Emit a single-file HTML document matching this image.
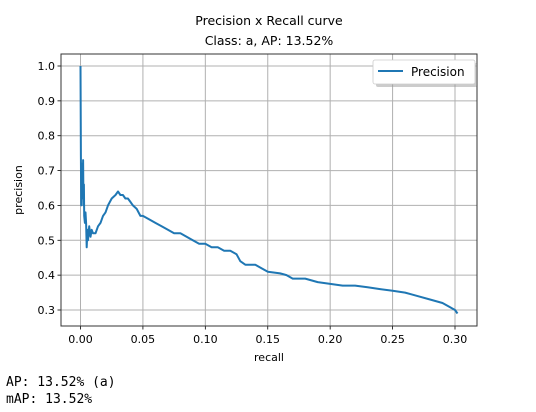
<!DOCTYPE html>
<html><head><meta charset="utf-8"><style>
body{margin:0;background:#fff;width:536px;height:412px;overflow:hidden;font-family:"DejaVu Sans","Liberation Sans",sans-serif}
#out{position:absolute;left:6px;top:374px;font-family:"DejaVu Sans Mono","Liberation Mono",monospace;font-size:13px;line-height:17px;color:#000;white-space:pre}
</style></head><body>
<svg id="chart" width="536" height="372" style="position:absolute;left:0;top:0">
</svg>
<div id="out">AP: 13.52% (a)
mAP: 13.52%</div>
<script>
const recall=[0,0.0003,0.0006,0.0009,0.0012,0.0015,0.0018,0.0021,0.0024,0.0027,0.003,0.0035,0.004,0.0045,0.005,0.0055,0.006,0.007,0.008,0.009,0.01,0.012,0.014,0.016,0.018,0.02,0.022,0.025,0.028,0.03,0.032,0.034,0.036,0.038,0.04,0.042,0.045,0.048,0.05,0.055,0.06,0.065,0.07,0.075,0.08,0.085,0.09,0.095,0.1,0.105,0.11,0.115,0.12,0.125,0.128,0.132,0.14,0.145,0.15,0.16,0.165,0.17,0.18,0.19,0.2,0.21,0.22,0.23,0.24,0.25,0.26,0.265,0.27,0.28,0.29,0.295,0.3,0.302];
const precision=[1.0,0.74,0.6,0.7,0.62,0.72,0.63,0.73,0.6,0.66,0.57,0.55,0.58,0.55,0.48,0.53,0.5,0.54,0.51,0.53,0.52,0.52,0.54,0.55,0.57,0.58,0.6,0.62,0.63,0.64,0.63,0.63,0.62,0.62,0.61,0.6,0.59,0.57,0.57,0.56,0.55,0.54,0.53,0.52,0.52,0.51,0.5,0.49,0.49,0.48,0.48,0.47,0.47,0.46,0.44,0.43,0.43,0.42,0.41,0.405,0.4,0.39,0.39,0.38,0.375,0.37,0.37,0.365,0.36,0.355,0.35,0.345,0.34,0.33,0.32,0.31,0.3,0.29];
const xTicks=[0,0.05,0.1,0.15,0.2,0.25,0.3];
const xTickLabels=["0.00","0.05","0.10","0.15","0.20","0.25","0.30"];
const yTicks=[0.3,0.4,0.5,0.6,0.7,0.8,0.9,1.0];
const yTickLabels=["0.3","0.4","0.5","0.6","0.7","0.8","0.9","1.0"];
const L=61,T=54,R=477,B=326;
const sx=v=>80.5+v*(455-80.5)/0.3;
const sy=v=>310-(v-0.3)*(310-66)/0.7;
const svg=document.getElementById('chart');
const NS='http://www.w3.org/2000/svg';
function mk(tag,attrs,text){const e=document.createElementNS(NS,tag);for(const k in attrs)e.setAttribute(k,attrs[k]);if(text!==undefined)e.textContent=text;svg.appendChild(e);return e;}
xTicks.forEach((t,i)=>{const x=sx(t);
 const g=mk('line',{x1:x,x2:x,y1:T,y2:B,stroke:'#b0b0b0','stroke-width':1});
 
 mk('line',{x1:x,x2:x,y1:B,y2:B+3.5,stroke:'#000','stroke-width':0.8});
 const l=mk('text',{x:x,y:B+17,'text-anchor':'middle','font-size':11,fill:'#000'},xTickLabels[i]);
 });
yTicks.forEach((t,i)=>{const y=sy(t);
 const g=mk('line',{x1:L,x2:R,y1:y,y2:y,stroke:'#b0b0b0','stroke-width':1});
 
 mk('line',{x1:L-3.5,x2:L,y1:y,y2:y,stroke:'#000','stroke-width':0.8});
 const l=mk('text',{x:L-6,y:y+4,'text-anchor':'end','font-size':11,fill:'#000'},yTickLabels[i]);
 });
const d=recall.map((r,i)=>(i?'L':'M')+sx(r).toFixed(1)+','+sy(precision[i]).toFixed(1)).join(' ');
const p=mk('path',{d:d,fill:'none',stroke:'#1f77b4','stroke-width':2,'stroke-linejoin':'round'});

const f=mk('rect',{x:L,y:T,width:R-L,height:B-T,fill:'none',stroke:'#333','stroke-width':1});

const t1=mk('text',{x:269,y:25,'text-anchor':'middle','font-size':12.5},'Precision x Recall curve');

const t2=mk('text',{x:269,y:45,'text-anchor':'middle','font-size':12.5},'Class: a, AP: 13.52%');

const xl=mk('text',{x:269,y:361,'text-anchor':'middle','font-size':11},'recall');

const yl=mk('text',{x:22,y:190,'text-anchor':'middle','font-size':11,transform:'rotate(-90 22 190)'},'precision');

mk('rect',{x:376,y:63,width:101,height:24,rx:2,fill:'#999',opacity:0.5});
const lg=mk('rect',{x:373,y:60,width:102,height:24,rx:2,fill:'#fff',stroke:'#ccc','stroke-width':0.8});

mk('line',{x1:378,x2:403,y1:71,y2:71,stroke:'#1f77b4','stroke-width':2});
const lt=mk('text',{x:411,y:76,'font-size':12},'Precision');

</script>
</body></html>
